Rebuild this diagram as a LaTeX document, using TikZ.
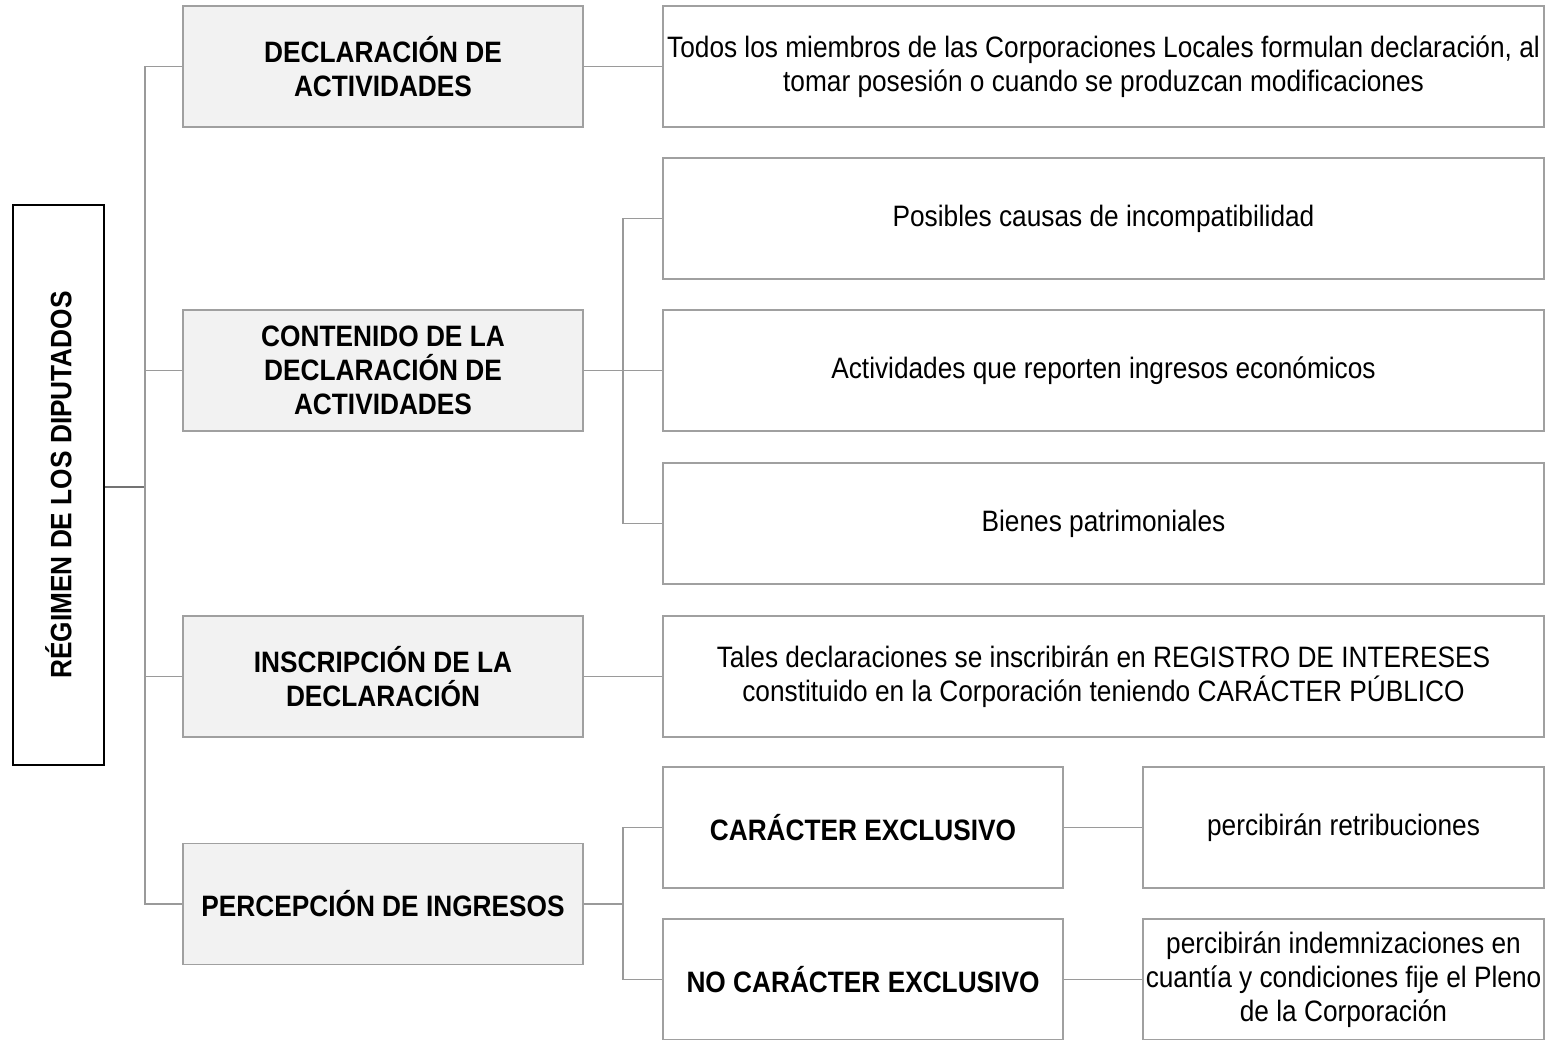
\documentclass[tikz,border=0pt]{standalone}
\usepackage{fontspec}
\setmainfont{Liberation Sans}[FakeStretch=0.89]
\definecolor{bord}{HTML}{A0A0A0}
\definecolor{lin}{HTML}{9A9A9A}
\definecolor{fillg}{HTML}{F2F2F2}
\begin{document}
\begin{tikzpicture}[x=1pt,y=-1pt,
  every node/.style={font=\fontsize{29.5}{34}\selectfont, align=center, inner sep=0pt},
  lvlone/.style={draw=bord, line width=1.3pt, fill=fillg, minimum width=400, minimum height=121, font=\fontsize{29.5}{34}\selectfont\bfseries},
  wbox/.style={draw=bord, line width=1.3pt, fill=white, minimum width=881, minimum height=121},
  sbox/.style={draw=bord, line width=1.3pt, fill=white, minimum width=400, minimum height=121},
  conn/.style={draw=lin, line width=1.8pt}
]
\useasboundingbox (0,0) rectangle (1554,1040);
% root
\node (root) [draw=black, line width=1.8pt, minimum width=91, minimum height=560] at (58.5,485) {};
\node (roottext) [rotate=90, font=\fontsize{29.5}{34}\selectfont\bfseries] at (root.center) {RÉGIMEN DE LOS DIPUTADOS};
% level one
\node (b1) [lvlone] at (383,66.5) {DECLARACIÓN DE\\ACTIVIDADES};
\node (b2) [lvlone] at (383,370.5) {CONTENIDO DE LA\\DECLARACIÓN DE\\ACTIVIDADES};
\node (b3) [lvlone] at (383,676.5) {INSCRIPCIÓN DE LA\\DECLARACIÓN};
\node (b4) [lvlone] at (383,904) {PERCEPCIÓN DE INGRESOS};
% level two
\node (r1) [wbox] at (1103.5,66.5) {Todos los miembros de las Corporaciones Locales formulan declaración, al\\tomar posesión o cuando se produzcan modificaciones};
\node (p1) [wbox] at (1103.5,218.5) {Posibles causas de incompatibilidad};
\node (p2) [wbox] at (1103.5,370.5) {Actividades que reporten ingresos económicos};
\node (p3) [wbox] at (1103.5,523.5) {Bienes patrimoniales};
\node (r3) [wbox] at (1103.5,676.5) {Tales declaraciones se inscribirán en REGISTRO DE INTERESES\\constituido en la Corporación teniendo CARÁCTER PÚBLICO};
\node (e1) [sbox, font=\fontsize{29.5}{34}\selectfont\bfseries] at (863,827.5) {CARÁCTER EXCLUSIVO};
\node (e2) [sbox, font=\fontsize{29.5}{34}\selectfont\bfseries] at (863,979.5) {NO CARÁCTER EXCLUSIVO};
\node (f1) [sbox, minimum width=401] at (1343.5,827.5) {percibirán retribuciones};
\node (f2) [sbox, minimum width=401] at (1343.5,979.5) {percibirán indemnizaciones en\\cuantía y condiciones fije el Pleno\\de la Corporación};
% connectors
\coordinate (trunk) at (145,487);
\draw[draw=black!55, line width=1.8pt] (root.east |- trunk) -- (trunk);
\draw[conn] (trunk) |- (b1.west);
\draw[conn] (trunk) |- (b2.west);
\draw[conn] (trunk) |- (b3.west);
\draw[conn] (trunk) |- (b4.west);
\draw[conn] (b1.east) -- (r1.west);
\draw[conn] (b3.east) -- (r3.west);
\coordinate (br2) at (623,370.5);
\draw[conn] (b2.east) -- (br2);
\draw[conn] (br2) |- (p1.west);
\draw[conn] (br2) -- (p2.west);
\draw[conn] (br2) |- (p3.west);
\coordinate (br4) at (623,904);
\draw[conn] (b4.east) -- (br4);
\draw[conn] (br4) |- (e1.west);
\draw[conn] (br4) |- (e2.west);
\draw[conn] (e1.east) -- (f1.west);
\draw[conn] (e2.east) -- (f2.west);
\end{tikzpicture}
\end{document}
